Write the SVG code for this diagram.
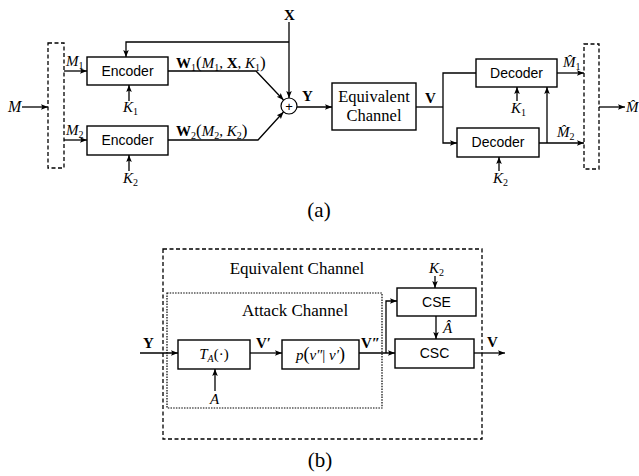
<svg xmlns="http://www.w3.org/2000/svg" width="639" height="476" viewBox="0 0 639 476">
<defs>
<marker id="ah" viewBox="0 0 10 10" refX="10" refY="5" markerWidth="7" markerHeight="7" markerUnits="userSpaceOnUse" orient="auto">
<path d="M0,1 L10,5 L0,9 L2,5 Z" fill="#000"/>
</marker>
</defs>
<style>
.box{fill:#fff;stroke:#000;stroke-width:1.4}
.dash{fill:none;stroke:#000;stroke-width:1.3;stroke-dasharray:4 2.5}
.dot{fill:none;stroke:#000;stroke-width:1.2;stroke-dasharray:1.5 1.2}
.ln{fill:none;stroke:#000;stroke-width:1.3}
.ar{fill:none;stroke:#000;stroke-width:1.3;marker-end:url(#ah)}
.sans{font-family:"Liberation Sans",Arial,sans-serif;font-size:14px;text-anchor:middle}
.ser{font-family:"Liberation Serif","Times New Roman",serif;font-size:15px}
.it{font-style:italic}
.b{font-weight:bold}
.sub{font-size:10px}
</style>
<rect width="639" height="476" fill="#fff"/>

<!-- (a) -->
<g id="splitter"><rect class="dash" x="48" y="43" width="16" height="125"/></g>
<g id="merger"><rect class="dash" x="584" y="44" width="15" height="125"/></g>
<g id="encoder1"><rect class="box" x="87" y="57" width="81" height="28"/><text class="sans" x="127.5" y="76">Encoder</text></g>
<g id="encoder2"><rect class="box" x="87" y="126" width="81" height="29"/><text class="sans" x="127.5" y="145">Encoder</text></g>
<g id="adder"><circle cx="289" cy="106" r="8" fill="#fff" stroke="#000" stroke-width="1.2"/><text class="sans" x="289" y="111" style="font-size:13px">+</text></g>
<g id="eqchannel"><rect class="box" x="332" y="83" width="84" height="47"/><text class="ser" x="374" y="102" text-anchor="middle" style="font-size:16.5px">Equivalent</text><text class="ser" x="374" y="121" text-anchor="middle" style="font-size:16.5px">Channel</text></g>
<g id="decoder1"><rect class="box" x="476" y="59" width="81" height="28"/><text class="sans" x="516.5" y="78">Decoder</text></g>
<g id="decoder2"><rect class="box" x="457" y="128" width="82" height="29"/><text class="sans" x="498" y="147">Decoder</text></g>

<g id="connectors-a">
<line class="ar" x1="22" y1="107" x2="48" y2="107"/>
<line class="ar" x1="64" y1="71" x2="87" y2="71"/>
<line class="ar" x1="64" y1="140" x2="87" y2="140"/>
<line class="ar" x1="129" y1="101" x2="129" y2="85"/>
<line class="ar" x1="129" y1="171" x2="129" y2="155"/>
<polyline class="ar" points="289,42 126,42 126,57"/>
<line class="ar" x1="289" y1="22" x2="289" y2="98"/>
<polyline class="ar" points="168,71 256,71 283.5,100"/>
<polyline class="ar" points="168,140 258,140 283.5,112"/>
<line class="ar" x1="297" y1="107" x2="332" y2="107"/>
<line class="ln" x1="416" y1="107" x2="443" y2="107"/>
<polyline class="ar" points="476,73 443,73 443,143 457,143"/>
<line class="ar" x1="517" y1="101" x2="517" y2="87"/>
<line class="ar" x1="499" y1="171" x2="499" y2="157"/>
<line class="ar" x1="557" y1="73" x2="584" y2="73"/>
<line class="ar" x1="539" y1="143" x2="584" y2="143"/>
<line class="ar" x1="547" y1="143" x2="547" y2="87"/>
<line class="ar" x1="599" y1="107" x2="625" y2="107"/>
</g>

<g id="labels-a" class="ser">
<text class="it" x="8" y="112" style="font-size:16px">M</text>
<text x="66" y="66"><tspan class="it">M</tspan><tspan class="sub" dy="3">1</tspan></text>
<text x="66" y="135"><tspan class="it">M</tspan><tspan class="sub" dy="3">2</tspan></text>
<text x="123" y="112"><tspan class="it">K</tspan><tspan class="sub" dy="3">1</tspan></text>
<text x="123" y="183"><tspan class="it">K</tspan><tspan class="sub" dy="3">2</tspan></text>
<text x="176" y="68"><tspan class="b">W</tspan><tspan class="sub" dy="3">1</tspan><tspan dy="-3" style="font-size:17px">(</tspan><tspan class="it">M</tspan><tspan class="sub" dy="3">1</tspan><tspan dy="-3">, </tspan><tspan class="b">X</tspan><tspan>, </tspan><tspan class="it">K</tspan><tspan class="sub" dy="3">1</tspan><tspan dy="-3" style="font-size:17px">)</tspan></text>
<text x="176" y="136"><tspan class="b">W</tspan><tspan class="sub" dy="3">2</tspan><tspan dy="-3" style="font-size:17px">(</tspan><tspan class="it">M</tspan><tspan class="sub" dy="3">2</tspan><tspan dy="-3">, </tspan><tspan class="it">K</tspan><tspan class="sub" dy="3">2</tspan><tspan dy="-3" style="font-size:17px">)</tspan></text>
<text class="b" x="284" y="20">X</text>
<text class="b" x="302" y="101">Y</text>
<text class="b" x="425" y="103">V</text>
<text x="511" y="113"><tspan class="it">K</tspan><tspan class="sub" dy="3">1</tspan></text>
<text x="493" y="183"><tspan class="it">K</tspan><tspan class="sub" dy="3">2</tspan></text>
<text x="563" y="67"><tspan class="it">M̂</tspan><tspan class="sub" dy="3">1</tspan></text>
<text x="557" y="137"><tspan class="it">M̂</tspan><tspan class="sub" dy="3">2</tspan></text>
<text class="it" x="626" y="112">M̂</text>
<text x="319" y="217" text-anchor="middle" style="font-size:21px">(a)</text>
</g>

<!-- (b) -->
<g id="eqchannel-outer"><rect class="dash" x="163" y="249" width="319" height="190"/><text class="ser" x="297" y="274" text-anchor="middle" style="font-size:17px">Equivalent Channel</text></g>
<g id="attack-channel"><rect class="dot" x="167" y="293" width="215" height="115"/><text class="ser" x="295" y="316" text-anchor="middle" style="font-size:17px">Attack Channel</text></g>
<g id="ta"><rect class="box" x="178" y="340" width="72" height="29"/><text class="ser" x="214" y="359" text-anchor="middle"><tspan class="it">T</tspan><tspan class="sub it" dy="3">A</tspan><tspan dy="-3">(·)</tspan></text></g>
<g id="pchan"><rect class="box" x="282" y="340" width="77" height="29"/><text class="ser" x="320.5" y="360" text-anchor="middle"><tspan class="it">p</tspan><tspan style="font-size:18px">(</tspan><tspan class="it">v″</tspan><tspan>| </tspan><tspan class="it">v′</tspan><tspan style="font-size:18px">)</tspan></text></g>
<g id="cse"><rect class="box" x="397" y="288" width="79" height="28"/><text class="sans" x="436.5" y="307">CSE</text></g>
<g id="csc"><rect class="box" x="395" y="339" width="79" height="29"/><text class="sans" x="434.5" y="358">CSC</text></g>

<g id="connectors-b">
<line class="ar" x1="140" y1="353" x2="178" y2="353"/>
<line class="ar" x1="250" y1="353" x2="282" y2="353"/>
<line class="ar" x1="215" y1="391" x2="215" y2="369"/>
<line class="ar" x1="359" y1="353" x2="395" y2="353"/>
<polyline class="ar" points="386,353 386,301 397,301"/>
<line class="ar" x1="435" y1="276" x2="435" y2="288"/>
<line class="ar" x1="436" y1="316" x2="436" y2="339"/>
<line class="ar" x1="474" y1="353" x2="505" y2="353"/>
</g>

<g id="labels-b" class="ser">
<text class="b" x="143" y="348">Y</text>
<text class="b" x="256" y="348">V′</text>
<text class="b" x="361" y="348">V″</text>
<text class="it" x="210" y="404">A</text>
<text x="429" y="273"><tspan class="it">K</tspan><tspan class="sub" dy="3">2</tspan></text>
<text class="it" x="443" y="333">Â</text>
<text class="b" x="487" y="347">V</text>
<text x="320" y="467" text-anchor="middle" style="font-size:21px">(b)</text>
</g>
</svg>
